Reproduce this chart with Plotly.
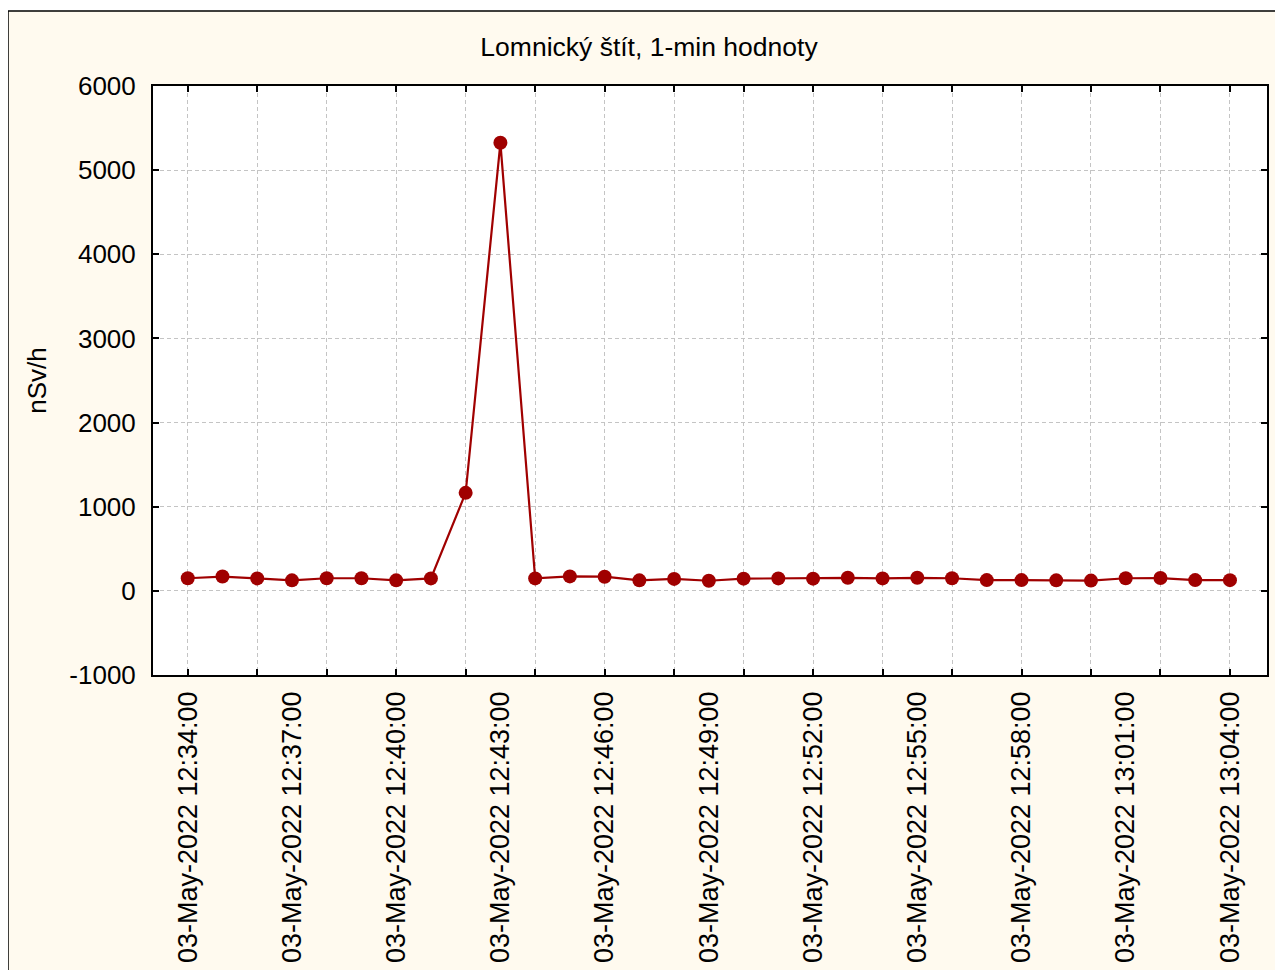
import plotly.graph_objects as go
import pandas as pd

# ---- data ----
times = pd.date_range("2022-05-03 12:34:00", "2022-05-03 13:04:00", freq="1min")
dose_rate = [150, 170, 148, 125, 150, 150, 125, 148, 1165, 5325,
             148, 172, 168, 125, 142, 120, 145, 148, 145, 155,
             148, 155, 150, 128, 128, 125, 122, 150, 152, 128, 127]
grid_ticks = pd.date_range("2022-05-03 12:34:00", "2022-05-03 13:04:00", freq="2min")
label_ticks = pd.date_range("2022-05-03 12:34:00", "2022-05-03 13:04:00", freq="3min")
label_text = [t.strftime("%d-%b-%Y %H:%M:%S") for t in label_ticks]
y_ticks = [-1000, 0, 1000, 2000, 3000, 4000, 5000, 6000]
y_tick_text = ["-1000", "0", "1000", "2000", "3000", "4000", "5000", "6000"]
title_text = "Lomnický štít, 1-min hodnoty"
y_title = "nSv/h"

x_range = [pd.Timestamp("2022-05-03 12:33:00"), pd.Timestamp("2022-05-03 13:05:04")]

FONT = "Arial, Liberation Sans, sans-serif"
RED = "#A00000"
CREAM = "#FFFAEF"
GRID = "#C4C4C4"

W, H = 1275, 962
L, T, R, B = 145, 78, 16, 295
PW = W - L - R
PH = H - T - B

fig = go.Figure()
fig.add_trace(go.Scatter(
    x=times, y=dose_rate, mode="lines+markers",
    line=dict(color=RED, width=2.2),
    marker=dict(color=RED, size=14),
    showlegend=False, xaxis="x", yaxis="y",
))
# invisible trace to activate the label axis
fig.add_trace(go.Scatter(x=[times[0]], y=[None], xaxis="x2", yaxis="y",
                         showlegend=False, hoverinfo="skip"))

fig.update_layout(
    width=W, height=H,
    margin=dict(l=L, r=R, t=T, b=B, autoexpand=False),
    paper_bgcolor="white",
    plot_bgcolor="white",
    font=dict(family=FONT, color="black"),
    title=dict(text=title_text, x=641 / W, xref="container", xanchor="center",
               y=1 - 39 / H, yref="container", yanchor="middle",
               font=dict(size=26.5, family=FONT, color="black")),
    xaxis=dict(
        type="date", range=x_range, automargin=False,
        tickmode="array", tickvals=list(grid_ticks), showticklabels=False,
        ticks="inside", ticklen=6, tickwidth=2, tickcolor="black",
        showline=True, linecolor="black", linewidth=2, mirror="ticks",
        showgrid=True, gridcolor=GRID, gridwidth=1, griddash="4px,3px",
        zeroline=False,
    ),
    xaxis2=dict(
        type="date", range=x_range, overlaying="x", anchor="y", side="bottom",
        automargin=False,
        tickmode="array", tickvals=list(label_ticks), ticktext=label_text,
        tickangle=-90, ticks="", showgrid=False, showline=False, zeroline=False,
        tickfont=dict(size=27, family=FONT, color="black"),
        ticklabelstandoff=10,
    ),
    yaxis=dict(
        range=[-1000, 6000], tickmode="array", tickvals=y_ticks, ticktext=y_tick_text,
        automargin=False,
        ticks="inside", ticklen=6, tickwidth=2, tickcolor="black",
        showline=True, linecolor="black", linewidth=2, mirror="ticks",
        showgrid=True, gridcolor=GRID, gridwidth=1, griddash="4px,3px",
        zeroline=False,
        tickfont=dict(size=26, family=FONT, color="black"),
        ticklabelstandoff=10,
        title=dict(text=y_title, font=dict(size=26, family=FONT, color="black"),
                   standoff=15),
    ),
    shapes=[
        dict(type="rect", xref="paper", yref="paper",
             x0=(0 - L) / PW, x1=(1274 - L) / PW,
             y0=(PH - (H + 20 - T)) / PH, y1=(PH - (3 - T)) / PH,
             fillcolor=CREAM, line=dict(color="black", width=1.5), layer="below"),
        dict(type="rect", xref="paper", yref="paper", x0=0, x1=1, y0=0, y1=1,
             fillcolor="white", line=dict(width=0), layer="below"),
    ],
)

fig.write_html("out.html")
